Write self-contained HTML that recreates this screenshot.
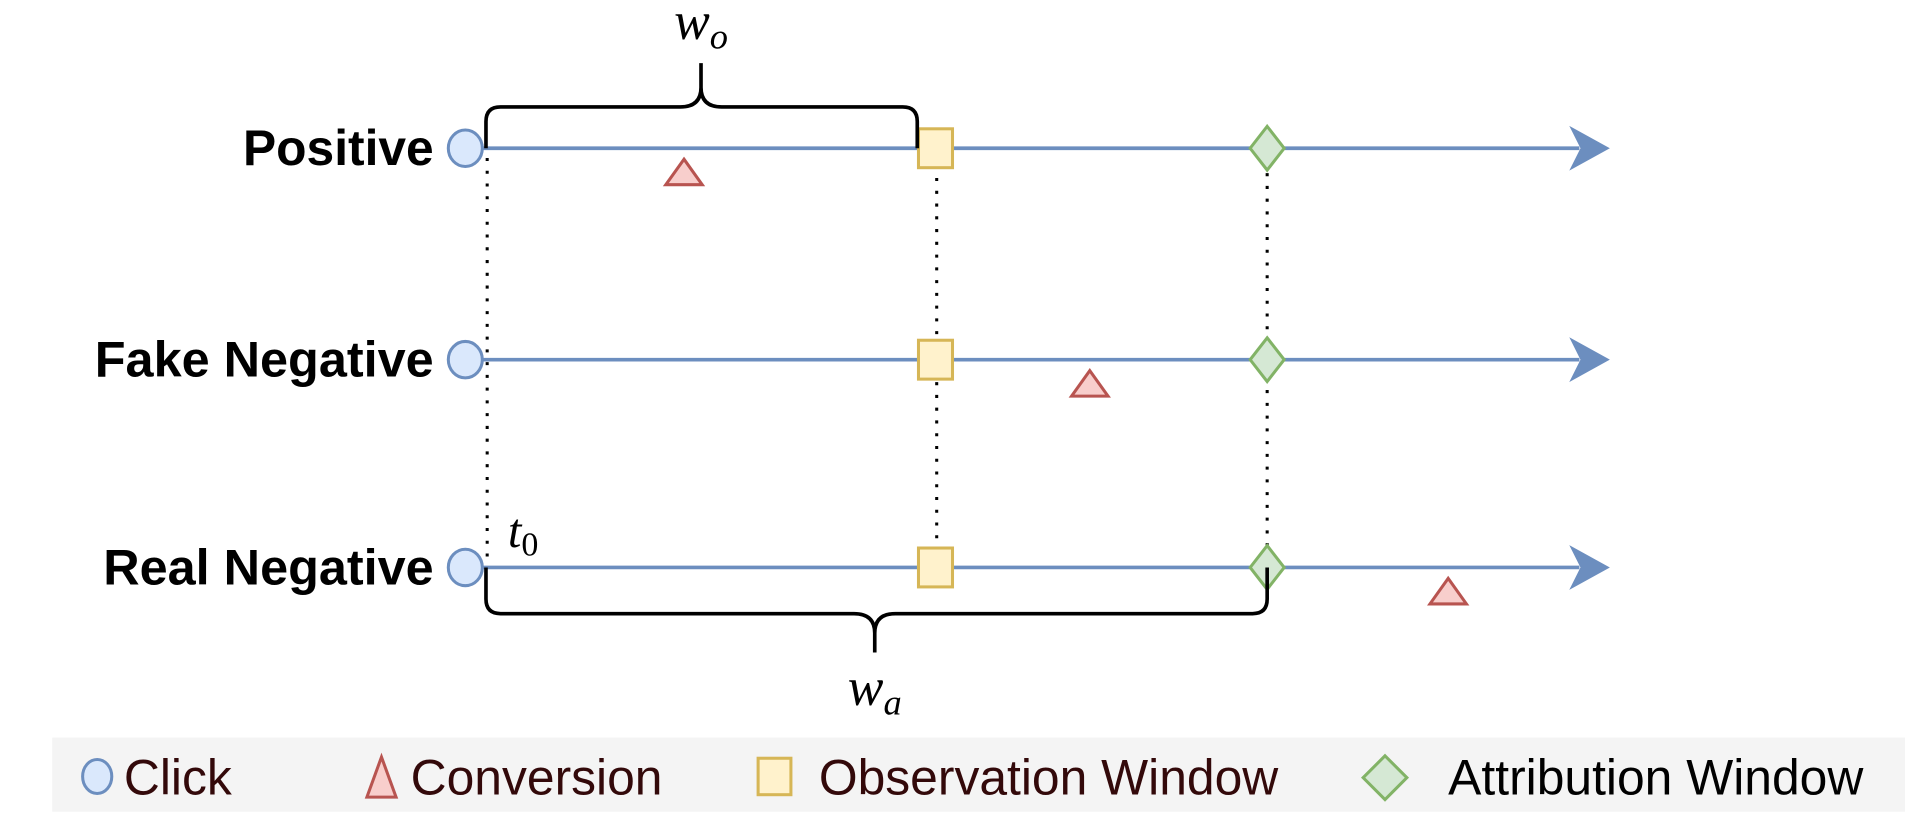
<!DOCTYPE html>
<html><head><meta charset="utf-8"><style>
html,body{margin:0;padding:0;background:#fff;width:1905px;height:819px;overflow:hidden}
svg{display:block}
</style></head><body>
<svg id="chart" width="1905" height="819" viewBox="0 0 1568 674" preserveAspectRatio="none" xmlns="http://www.w3.org/2000/svg">
<g id="guides"></g>
<g id="rows"></g>
<g id="braces" fill="none" stroke="#000" stroke-width="3">
<path d="M400,122 L400,100 Q400,88 412,88 L560,88 Q577,88 577,72 L577,52 M577,72 Q577,88 594,88 L743,88 Q755,88 755,100 L755,122"/>
<path d="M400,467 L400,493 Q400,505 412,505 L703,505 Q720,505 720,521 L720,537 M720,521 Q720,505 737,505 L1031,505 Q1043,505 1043,493 L1043,467"/>
</g>
<text x="577" y="32" font-family="Liberation Serif, serif" font-style="italic" font-size="44" text-anchor="middle">w<tspan font-size="30" dy="8">o</tspan></text>
<text x="720" y="580" font-family="Liberation Serif, serif" font-style="italic" font-size="44" text-anchor="middle">w<tspan font-size="30" dy="8">a</tspan></text>
<text x="418" y="450" font-family="Liberation Serif, serif" font-style="italic" font-size="40">t<tspan font-size="28" dy="7" font-style="normal">0</tspan></text>
<rect x="43" y="607" width="1525" height="61" fill="#f4f4f4"/>
<g id="legend" font-family="Liberation Sans, sans-serif" font-size="41">
<g><ellipse cx="80" cy="639" rx="12" ry="14" fill="#dae8fc" stroke="#6c8ebf" stroke-width="2.5"/><text x="102" y="654" fill="#33090a">Click</text></g>
<g><polygon points="314,623 326,656 302,656" fill="#f8cecc" stroke="#b85450" stroke-width="2.5"/><text x="338" y="654" fill="#33090a">Conversion</text></g>
<g><rect x="624" y="624" width="27" height="30" fill="#fff2cc" stroke="#d6b656" stroke-width="2.5"/><text x="674" y="654" fill="#33090a">Observation Window</text></g>
<g><polygon points="1140,622 1158,640 1140,658 1122,640" fill="#d5e8d4" stroke="#82b366" stroke-width="2.5"/><text x="1192" y="654" fill="#000">Attribution Window</text></g>
</g>
</svg>
<script>
const rowLabels = ["Positive", "Fake Negative", "Real Negative"];
const rowY = [122, 296, 467];
const clickX = [383, 383, 383];
const conversionX = [563, 897, 1192];
const observationX = [770, 770, 770];
const attributionX = [1043, 1043, 1043];
const NS = "http://www.w3.org/2000/svg";
function mk(tag, attrs, parent){const e=document.createElementNS(NS,tag);for(const k in attrs)e.setAttribute(k,attrs[k]);parent.appendChild(e);return e;}
const rows=document.getElementById('rows'), guides=document.getElementById('guides');
[[401,130,458],[771,136,455],[1043,132,455]].forEach(function(g,i){
  const l=mk('line',{x1:g[0],y1:g[1],x2:g[0],y2:g[2],stroke:'#000','stroke-width':2.5,'stroke-dasharray':'2.5 8'},guides);
  
  
});
rowLabels.forEach(function(lab,i){
  const y=rowY[i];
  const g=mk('g',{},rows);
  
  
  const t=mk('text',{x:357,y:y+14,'text-anchor':'end','font-family':'Liberation Sans, sans-serif','font-weight':'bold','font-size':41,'textLength':[157,279,272][i],'lengthAdjust':'spacingAndGlyphs'},g);
  t.textContent=lab;
  
  
  const ln=mk('line',{x1:clickX[i]+14,y1:y,x2:1300,y2:y,stroke:'#6c8ebf','stroke-width':3},g);
  
  
  const ah=mk('polygon',{points:'1294,'+(y-16)+' 1323,'+y+' 1294,'+(y+16)+' 1302,'+y,fill:'#6c8ebf',stroke:'#6c8ebf','stroke-width':2},g);
  
  
  const c=mk('ellipse',{cx:clickX[i],cy:y,rx:14,ry:15,fill:'#dae8fc',stroke:'#6c8ebf','stroke-width':2.5},g);
  
  
  const sq=mk('rect',{x:observationX[i]-14,y:y-16,width:28,height:32,fill:'#fff2cc',stroke:'#d6b656','stroke-width':2.5},g);
  
  
  const ax=attributionX[i];
  const d=mk('polygon',{points:ax+','+(y-18)+' '+(ax+14)+','+y+' '+ax+','+(y+18)+' '+(ax-14)+','+y,fill:'#d5e8d4',stroke:'#82b366','stroke-width':2.5},g);
  
  
  const cx=conversionX[i], ty=y+9;
  const tr=mk('polygon',{points:cx+','+ty+' '+(cx+15)+','+(ty+21)+' '+(cx-15)+','+(ty+21),fill:'#f8cecc',stroke:'#b85450','stroke-width':2.5},g);
  
  
});
</script>
</body></html>
